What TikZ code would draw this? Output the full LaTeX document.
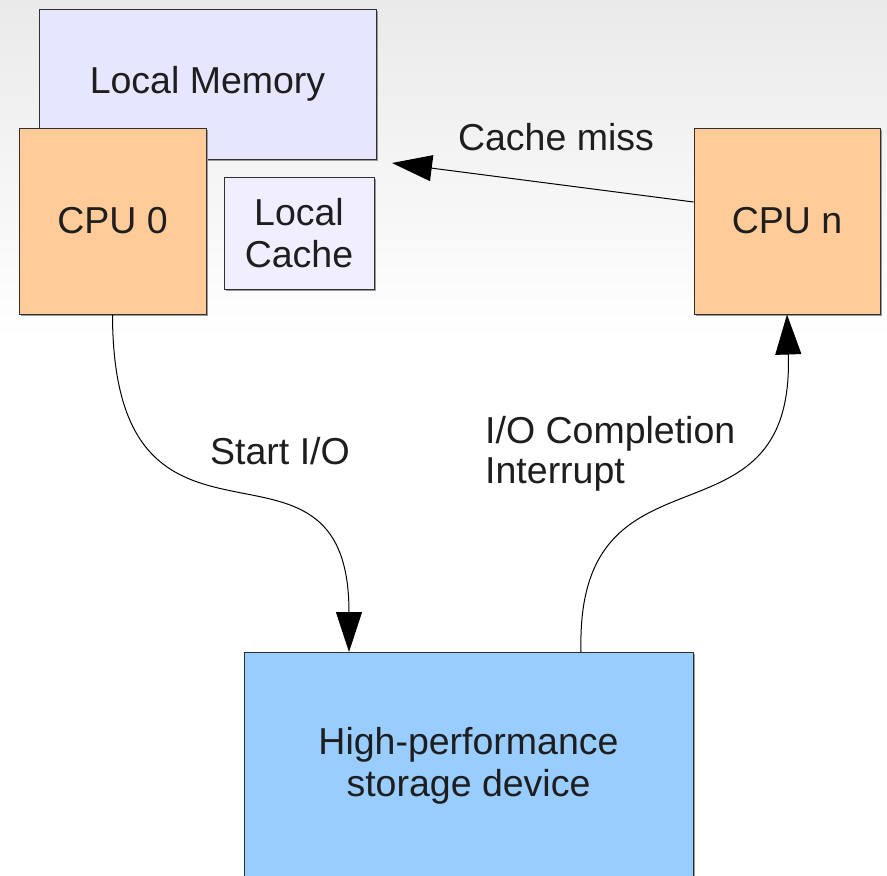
\documentclass[tikz,border=0pt]{standalone}
\usepackage{fontspec}
\setmainfont{Liberation Sans}
\usetikzlibrary{arrows.meta,shadows}

\definecolor{memfill}{HTML}{E6E6FF}
\definecolor{cachefill}{HTML}{F1EFFF}
\definecolor{cpufill}{HTML}{FFCC99}
\definecolor{storefill}{HTML}{99CCFF}
\definecolor{edge}{HTML}{303030}
\definecolor{ink}{HTML}{1E1E1E}
\definecolor{bgtop}{HTML}{EAEAEA}

\tikzset{
  box/.style={draw=edge, line width=1pt, inner sep=0pt, align=center,
    text=ink, font=\fontsize{37.5}{41.5}\selectfont,
    drop shadow={shadow xshift=1.6pt, shadow yshift=-1.6pt, fill=black!40, opacity=1}},
  lbl/.style={text=ink, font=\fontsize{37.5}{40}\selectfont, inner sep=0pt},
  flow/.style={draw=black, line width=1pt,
    -{Triangle[length=40pt,width=26pt]}}
}

\begin{document}
\begin{tikzpicture}[x=1pt,y=-1pt]
  \useasboundingbox (0,0) rectangle (887,876);
  % page background: light grey at the top fading to white
  \fill[white] (0,0) rectangle (887,876);
  \shade[top color=bgtop, bottom color=white] (0,0) rectangle (887,340);

  % memory and cache of the first processor
  \node[box, fill=memfill, minimum width=337pt, minimum height=150pt] (mem) at (207.5,84) {Local Memory};
  \node[box, fill=cpufill, minimum width=187pt, minimum height=186pt] (cpu0) at (112.5,221) {CPU 0};
  \node[box, fill=cachefill, minimum width=150pt, minimum height=112pt] (cache) at (299,233) {Local\\Cache};

  % remote processor
  \node[box, fill=cpufill, minimum width=186pt, minimum height=186pt] (cpun) at (787,221) {CPU n};

  % storage device, running past the lower edge
  \node[box, fill=storefill, minimum width=449pt, minimum height=228pt] (store) at (468.5,766) {High-performance\\storage device};

  % connectors
  \coordinate (misstip) at (392,163);
  \coordinate (iotip) at (349,652);
  \coordinate (irqfoot) at (581,652);

  \draw[flow] ([yshift=19pt]cpun.west) -- (misstip);
  \node[lbl] (misslbl) at (556,137) {Cache miss};

  \draw[flow] (cpu0.south) .. controls (113,600) and (349,400) .. (iotip);
  \node[lbl] (startlbl) at (280,451) {Start I/O};

  \draw[flow] (irqfoot) .. controls (575,430) and (795,560) .. (cpun.south);
  \node[lbl, anchor=west, align=left] (irqlbl) at (485,454) {I/O Completion\\Interrupt};
\end{tikzpicture}
\end{document}
